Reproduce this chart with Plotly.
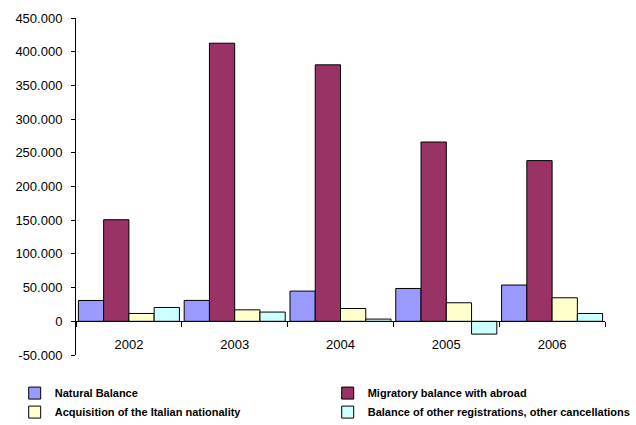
import plotly.graph_objects as go

years = ["2002", "2003", "2004", "2005", "2006"]

natural_balance = [30900, 31000, 44800, 48700, 53800]
migratory_balance = [150700, 412600, 380500, 266000, 238400]
italian_nationality = [11600, 17000, 19000, 27500, 34900]
other_registrations = [20500, 13700, 3300, -19000, 11600]

series_names = [
    "Natural Balance",
    "Migratory balance with abroad",
    "Acquisition of the Italian nationality",
    "Balance of other registrations, other cancellations",
]
series_colors = ["#9999FF", "#993366", "#FFFFCC", "#CCFFFF"]
# two legend columns: left holds series 1 and 3, right holds series 2 and 4
series_legends = ["legend", "legend2", "legend", "legend2"]

y_tick_values = [-50000, 0, 50000, 100000, 150000, 200000, 250000, 300000, 350000, 400000, 450000]
y_tick_labels = ["-50.000", "0", "50.000", "100.000", "150.000", "200.000",
                 "250.000", "300.000", "350.000", "400.000", "450.000"]

fig = go.Figure()
for name, values, color, leg in zip(
    series_names,
    [natural_balance, migratory_balance, italian_nationality, other_registrations],
    series_colors,
    series_legends,
):
    fig.add_trace(go.Bar(
        x=years, y=values, name=name,
        legend=leg, legendgroup=name,
        marker=dict(color=color, line=dict(color="#000000", width=1)),
    ))

legend_style = dict(
    orientation="v",
    xanchor="left",
    y=-0.070, yanchor="top",
    font=dict(family="Liberation Sans, Arial, sans-serif", size=11, color="#000000",
              weight="bold"),
    traceorder="normal",
    tracegroupgap=6,
    bgcolor="rgba(0,0,0,0)",
)

fig.update_layout(
    width=636, height=425,
    margin=dict(l=76, r=31, t=18, b=70, autoexpand=False),
    paper_bgcolor="white", plot_bgcolor="white",
    barmode="group", bargap=0.045, bargroupgap=0,
    font=dict(family="Liberation Sans, Arial, sans-serif", size=13, color="#000000"),
    showlegend=True,
    legend=dict(x=-0.1159, **legend_style),
    legend2=dict(x=0.4758, **legend_style),
)

fig.update_xaxes(
    type="category",
    range=[-0.5, 4.5],
    showline=True, linecolor="#000000", linewidth=1,
    ticks="outside", ticklen=5, tickcolor="#000000", tickson="boundaries",
    anchor="free", position=0.1,
    showgrid=False, zeroline=False,
    tickfont=dict(size=13),
    ticklabelstandoff=11,
)

fig.update_yaxes(
    range=[-50000, 450000],
    domain=[0, 1],
    tickvals=y_tick_values, ticktext=y_tick_labels,
    showline=True, linecolor="#000000", linewidth=1,
    ticks="outside", ticklen=4, tickcolor="#000000",
    showgrid=False, zeroline=False,
    tickfont=dict(size=13),
    ticklabelstandoff=6,
)

fig.write_html("out.html")
